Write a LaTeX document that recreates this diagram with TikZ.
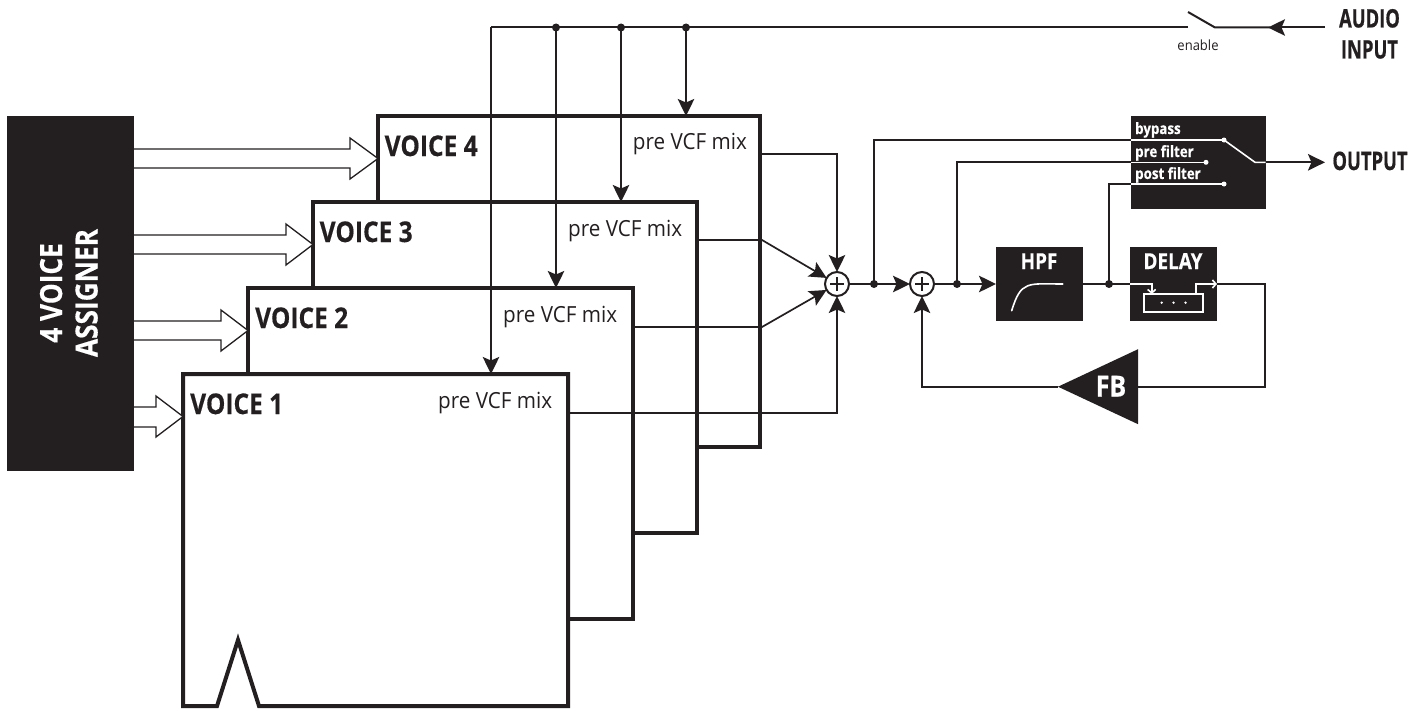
\documentclass[tikz,border=0pt]{standalone}
\usepackage{fontspec}
\usetikzlibrary{arrows.meta,shapes.geometric}
\setmainfont{Open Sans}
\newfontfamily\ptb[FakeStretch=0.86,BoldFeatures={FakeBold=0.4}]{Open Sans}
\newfontfamily\ptn[FakeStretch=0.72,BoldFeatures={FakeBold=0.5}]{Open Sans}
\newfontfamily\ptr[FakeStretch=0.93]{Open Sans}
\definecolor{ink}{HTML}{231F20}
\tikzset{
  tipk/.style={-{Stealth[length=17pt,width=16.5pt,inset=3.5pt]}},
  conn/.style={draw=ink,line width=2pt},
  voicebox/.style={draw=ink,fill=white,line width=4pt,anchor=north west,inner sep=0pt,outer sep=0pt,line join=miter},
  blockbox/.style={fill=ink,anchor=north west,inner sep=0pt,outer sep=0pt},
  hollow/.style={draw=ink,line width=1.3pt,fill=white,line join=miter},
  sumnode/.style={circle,draw=ink,fill=white,line width=2pt,minimum size=24pt,inner sep=0pt,outer sep=0pt},
  jdot/.style={circle,fill=ink,minimum size=8pt,inner sep=0pt,outer sep=0pt},
  wdot/.style={circle,fill=white,minimum size=5pt,inner sep=0pt,outer sep=0pt},
  wline/.style={draw=white,line width=1.6pt},
  vlabel/.style={anchor=base west,inner sep=0pt,text=ink,font=\ptb\bfseries\fontsize{28.5}{30}\selectfont},
  mixlabel/.style={anchor=base west,inner sep=0pt,text=ink,font=\ptr\fontsize{22.2}{24}\selectfont},
  swlabel/.style={anchor=base west,inner sep=0pt,text=white,font=\ptb\bfseries\fontsize{15.5}{17}\selectfont},
  whitehead/.style={anchor=base,inner sep=0pt,text=white,font=\ptb\bfseries\fontsize{22}{24}\selectfont},
  iolabel/.style={anchor=base,inner sep=0pt,text=ink,font=\ptn\bfseries\fontsize{25.5}{28}\selectfont},
}
\begin{document}
\begin{tikzpicture}[x=1pt,y=-1pt]
\useasboundingbox (0,0) rectangle (1425,709);
% voice boxes
\node[voicebox,minimum width=382pt,minimum height=331pt] (v4) at (378,116) {};
\node[voicebox,minimum width=384pt,minimum height=331pt] (v3) at (313,202) {};
\node[voicebox,minimum width=384.5pt,minimum height=331pt] (v2) at (248,288) {};
\node[anchor=north west,inner sep=0pt,outer sep=0pt,minimum width=385pt,minimum height=332pt] (v1) at (183,374) {};
\draw[draw=ink,fill=white,line width=4pt,line join=miter]
  (217,706) -- (238,640) -- (259,706) -- (v1.south east) -- (v1.north east) -- (v1.north west) -- (v1.south west) -- cycle;
% assigner
\node[blockbox,minimum width=127.5pt,minimum height=355pt] (asg) at (6.5,116) {};
\node[rotate=90,anchor=base,inner sep=0pt,text=white,font=\ptb\bfseries\fontsize{30.5}{32}\selectfont] (asg1) at (62,293) {4 VOICE};
\node[rotate=90,anchor=base,inner sep=0pt,text=white,font=\ptb\bfseries\fontsize{30.5}{32}\selectfont] (asg2) at (97.5,293) {ASSIGNER};
% hollow arrows
\draw[hollow] (asg.east |- 0,149) -- (350,149) -- (350,138) -- (v4.west |- 0,158.5) -- (350,179) -- (350,168) -- (asg.east |- 0,168);
\draw[hollow] (asg.east |- 0,235) -- (286,235) -- (286,224) -- (v3.west |- 0,244.5) -- (286,265) -- (286,254) -- (asg.east |- 0,254);
\draw[hollow] (asg.east |- 0,321) -- (221,321) -- (221,310) -- (v2.west |- 0,330.5) -- (221,351) -- (221,340) -- (asg.east |- 0,340);
\draw[hollow] (asg.east |- 0,407) -- (156,407) -- (156,396) -- (v1.west |- 0,416.5) -- (156,437) -- (156,427) -- (asg.east |- 0,427);
% voice labels
\node[vlabel] (lv4) at (384.5,156) {VOICE 4};
\node[vlabel] (lv3) at (319.5,242) {VOICE 3};
\node[vlabel] (lv2) at (255,328) {VOICE 2};
\node[vlabel] (lv1) at (190,414) {VOICE 1};
\node[mixlabel] (m4) at (632.7,149) {pre VCF mix};
\node[mixlabel] (m3) at (568,236) {pre VCF mix};
\node[mixlabel] (m2) at (503,322) {pre VCF mix};
\node[mixlabel] (m1) at (438,408) {pre VCF mix};
% audio input
\coordinate (ain) at (1325,27.5);
\coordinate (swa) at (1215,27.5);
\coordinate (swb) at (1188,12);
\coordinate (swc) at (1188,27.5);
\coordinate (tl) at (491,27.5);
\node[jdot] (d2) at (556,27.5) {};
\node[jdot] (d3) at (621,27.5) {};
\node[jdot] (d4) at (686,27.5) {};
\draw[conn] (swc) -- (tl);
\draw[conn,tipk] (ain) -- (1268,27.5);
\draw[conn] (1270,27.5) -- (swa) -- (swb);
\draw[conn,tipk] (tl) -- (tl |- v1.north);
\draw[conn,tipk] (d2.center) -- (d2 |- v2.north);
\draw[conn,tipk] (d3.center) -- (d3 |- v3.north);
\draw[conn,tipk] (d4.center) -- (d4 |- v4.north);
\node[anchor=base,inner sep=0pt,text=ink,font=\ptr\fontsize{14}{16}\selectfont] (en) at (1198,50.5) {enable};
\node[iolabel] (au) at (1369.5,27.5) {AUDIO};
\node[iolabel] (inp) at (1369.5,58.5) {INPUT};
% summing
\node[sumnode] (s1) at (837,284) {};
\node[sumnode] (s2) at (922,284) {};
\draw[ink,line width=1.2pt] (s1.center) +(-7,0) -- +(7,0) (s1.center) +(0,-7) -- +(0,7);
\draw[ink,line width=1.2pt] (s2.center) +(-7,0) -- +(7,0) (s2.center) +(0,-7) -- +(0,7);
% mix lines
\coordinate (k3) at (762,240);
\coordinate (k2) at (762,327);
\draw[conn,line width=1.7pt,tipk] (v4.east |- 0,154) -- (s1 |- 0,154) -- (s1.north);
\draw[conn,line width=1.7pt,tipk] (v3.east |- k3) -- (k3) -- (s1);
\draw[conn,line width=1.7pt,tipk] (v2.east |- k2) -- (k2) -- (s1);
\draw[conn,line width=1.7pt,tipk] (v1.east |- 0,413) -- (s1 |- 0,413) -- (s1.south);
% blocks
\node[blockbox,minimum width=87pt,minimum height=74pt] (hpf) at (996,247) {};
\node[blockbox,minimum width=87pt,minimum height=74pt] (dly) at (1130,247) {};
\node[blockbox,minimum width=134.7pt,minimum height=93pt] (sw) at (1131,116) {};
\node[jdot] (d5) at (874,284) {};
\node[jdot] (d6) at (957,284) {};
\node[jdot] (d7) at (1109,284) {};
\draw[conn,tipk] (s1) -- (s2);
\draw[conn,tipk] (s2) -- (hpf.west |- s2);
\draw[conn] (hpf.east |- d7) -- (dly.west |- d7);
\node[whitehead] (thpf) at (1039,269) {HPF};
\node[whitehead] (tdly) at (1173,269) {DELAY};
\draw[white,line width=1.6pt,line cap=round] (1011.7,310.7) .. controls (1021,280) and (1028,284) .. (1062.7,284);
% delay internals
\node[draw=white,line width=1.3pt,fill=ink,anchor=north west,inner sep=0pt,outer sep=0pt,minimum width=59pt,minimum height=18pt] (tank) at (1144,294) {};
\node[wdot,minimum size=2.6pt] (t1) at (1161.7,302.7) {};
\node[wdot,minimum size=2.6pt] (t2) at (1173.5,302.7) {};
\node[wdot,minimum size=2.6pt] (t3) at (1185.5,302.7) {};
\coordinate (din) at (1151.7,284);
\coordinate (dout) at (1196,284);
\draw[wline,-{Straight Barb[length=3.5pt,width=8pt]}] (dly.west |- din) -- (din) -- (din |- tank.north);
\draw[wline,-{Straight Barb[length=3.5pt,width=8pt]}] (dout |- tank.north) -- (dout) -- (dly.east |- dout);
% feedback
\node[isosceles triangle,isosceles triangle apex angle=50.2,shape border rotate=180,fill=ink,inner sep=0pt,outer sep=0pt,minimum height=80pt,minimum width=75pt,anchor=apex] (fb) at (1058,386.7) {};
\node[anchor=base,inner sep=0pt,text=white,font=\ptb\bfseries\fontsize{29}{31}\selectfont] (tfb) at (1111,396.5) {FB};
\coordinate (c1) at (1264.7,284);
\coordinate (c2) at (1264.7,386.7);
\coordinate (c3) at (922,386.7);
\draw[conn] (dly.east |- c1) -- (c1) -- (c2) -- (1138,386.7);
\draw[conn,tipk] (fb.apex) -- (c3) -- (s2);
% output selector
\node[swlabel] (sb) at (1135,134) {bypass};
\node[swlabel] (sp) at (1135,157) {pre filter};
\node[swlabel] (sq) at (1135,179) {post filter};
\node[wdot] (o1) at (1224,140) {};
\node[wdot] (o2) at (1206,162.3) {};
\node[wdot] (o3) at (1224,184) {};
\coordinate (e1) at (874,140);
\coordinate (e2) at (957,162.3);
\coordinate (e3) at (1109,184);
\draw[conn] (d5.center) -- (e1) -- (sw.west |- e1);
\draw[conn] (d6.center) -- (e2) -- (sw.west |- e2);
\draw[conn] (d7.center) -- (e3) -- (sw.west |- e3);
\draw[wline] (sw.west |- e1) -- (o1.center);
\draw[wline] (sw.west |- e2) -- (o2.center);
\draw[wline] (sw.west |- e3) -- (o3.center);
\coordinate (p) at (1255,162.3);
\draw[wline] (o1.center) -- (p) -- (sw.east |- p);
\coordinate (otip) at (1325,162.3);
\draw[conn,tipk] (sw.east |- p) -- (otip);
\node[iolabel] (tout) at (1370,170) {OUTPUT};
\end{tikzpicture}
\end{document}
